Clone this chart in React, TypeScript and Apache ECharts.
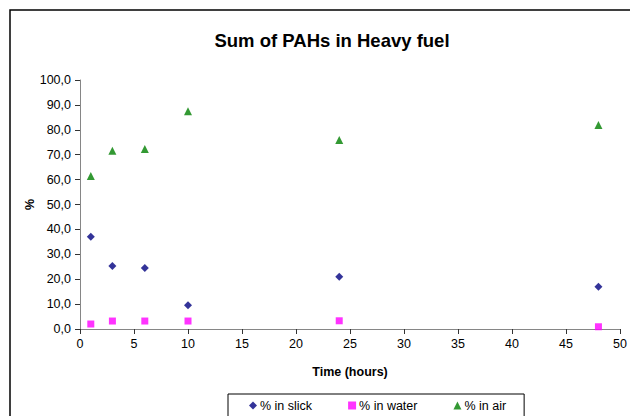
import React, { useEffect, useRef } from "react";
import * as echarts from "echarts";

const hours = [1, 3, 6, 10, 24, 48];
const slick = [37.0, 25.3, 24.5, 9.5, 21.0, 17.0];
const water = [2.0, 3.2, 3.2, 3.2, 3.3, 0.9];
const air = [61.4, 71.6, 72.3, 87.4, 75.9, 81.9];

const FONT = "Liberation Sans, Arial, sans-serif";

export default function App() {
  const ref = useRef<HTMLDivElement>(null);
  useEffect(() => {
    const chart = echarts.init(ref.current!, null, { renderer: "svg" });
    const pairs = (ys: number[]) => hours.map((h, i) => [h, ys[i]]);
    chart.setOption({
      animation: false,
      backgroundColor: "#ffffff",
      textStyle: { fontFamily: FONT },
      title: {
        text: "Sum of PAHs in Heavy fuel",
        left: 327,
        textAlign: "center",
        top: 26,
        textStyle: { fontFamily: FONT, fontSize: 18.5, fontWeight: "bold", color: "#000" },
      },
      graphic: [
        {
          type: "rect",
          shape: { x: 10, y: 10, width: 640, height: 440 },
          style: { fill: "none", stroke: "#000", lineWidth: 1.5 },
          silent: true,
        },
      ],
      grid: { left: 80, right: 8, top: 80, bottom: 87 },
      xAxis: {
        type: "value",
        min: 0,
        max: 50,
        interval: 5,
        name: "Time (hours)",
        nameLocation: "middle",
        nameGap: 36,
        nameMoveOverlap: false,
        nameTextStyle: { fontFamily: FONT, fontSize: 12.5, fontWeight: "bold", color: "#000" },
        axisLine: { show: true, lineStyle: { color: "#868686", width: 1 } },
        axisTick: { show: true, inside: false, length: 5, lineStyle: { color: "#333" } },
        axisLabel: { fontFamily: FONT, fontSize: 12.5, color: "#000", margin: 8 },
        splitLine: { show: false },
      },
      yAxis: {
        type: "value",
        min: 0,
        max: 100,
        interval: 10,
        name: "%",
        nameLocation: "middle",
        nameGap: 44,
        nameMoveOverlap: false,
        nameRotate: 90,
        nameTextStyle: { fontFamily: FONT, fontSize: 12.5, fontWeight: "bold", color: "#000" },
        axisLine: { show: true, lineStyle: { color: "#868686", width: 1 } },
        axisTick: { show: true, inside: false, length: 5, lineStyle: { color: "#333" } },
        axisLabel: {
          fontFamily: FONT,
          fontSize: 12.5,
          color: "#000",
          margin: 9,
          formatter: (v: number) => v.toFixed(1).replace(".", ","),
        },
        splitLine: { show: false },
      },
      legend: {
        left: 228,
        top: 394,
        orient: "horizontal",
        padding: [5, 18, 6, 21],
        itemGap: 36,
        itemWidth: 8,
        itemHeight: 8,
        borderColor: "#000",
        borderWidth: 1,
        textStyle: { fontFamily: FONT, fontSize: 12.5, color: "#000", padding: [0, 0, 0, -2] },
        data: [
          { name: "% in slick", icon: "diamond" },
          { name: "% in water", icon: "rect" },
          { name: "% in air", icon: "triangle" },
        ],
      },
      series: [
        {
          name: "% in slick",
          type: "scatter",
          symbol: "diamond",
          symbolSize: 8,
          itemStyle: { color: "#000080" },
          data: pairs(slick),
        },
        {
          name: "% in water",
          type: "scatter",
          symbol: "rect",
          symbolSize: 7,
          itemStyle: { color: "#ff00ff" },
          data: pairs(water),
        },
        {
          name: "% in air",
          type: "scatter",
          symbol: "triangle",
          symbolSize: 8,
          itemStyle: { color: "#008000" },
          data: pairs(air),
        },
      ],
    });
    return () => chart.dispose();
  }, []);
  return <div ref={ref} style={{ width: 630, height: 416, position: "absolute", left: 0, top: 0 }} />;
}
